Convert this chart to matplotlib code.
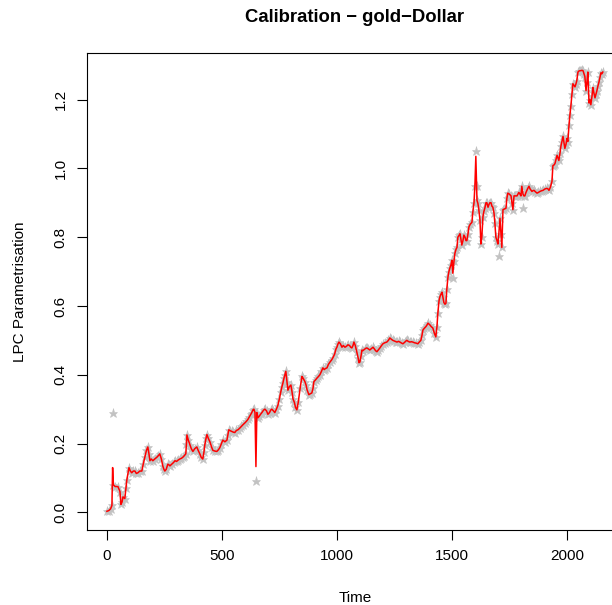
import numpy as np
from matplotlib import pyplot as plt

plt.rcParams['font.family'] = ['Liberation Sans', 'DejaVu Sans']

# LPC parametrisation of the gold-Dollar series
time = [
    0, 8, 16, 22, 25, 28, 36, 48, 57, 61, 66, 70, 78, 83, 87, 96, 102, 108, 115, 122,
    128, 135, 143, 152, 158, 165, 172, 178, 183, 187, 193, 200, 208, 217, 224, 230, 237, 243, 248, 252,
    258, 265, 270, 274, 282, 290, 296, 303, 310, 317, 324, 330, 337, 343, 346, 348, 354, 361, 367, 374,
    382, 391, 397, 404, 410, 417, 422, 426, 431, 435, 441, 448, 455, 461, 470, 478, 485, 491, 498, 504,
    513, 522, 526, 530, 537, 543, 550, 556, 563, 570, 578, 585, 592, 600, 607, 613, 620, 626, 630, 635,
    639, 644, 648, 652, 657, 663, 668, 674, 681, 687, 694, 700, 707, 712, 717, 724, 730, 737, 743, 750,
    756, 761, 765, 770, 774, 778, 783, 787, 793, 800, 805, 809, 815, 820, 826, 832, 840, 848, 853, 861,
    866, 870, 878, 885, 891, 896, 900, 907, 913, 920, 926, 933, 939, 945, 950, 957, 963, 970, 977, 983,
    990, 996, 1000, 1005, 1009, 1015, 1022, 1028, 1035, 1042, 1048, 1055, 1060, 1065, 1070, 1074, 1080, 1087, 1092, 1096,
    1100, 1105, 1109, 1113, 1120, 1126, 1130, 1137, 1143, 1150, 1157, 1163, 1168, 1174, 1180, 1187, 1193, 1200, 1208, 1217,
    1224, 1230, 1237, 1243, 1250, 1256, 1261, 1268, 1274, 1281, 1287, 1294, 1300, 1304, 1310, 1317, 1324, 1330, 1337, 1344,
    1352, 1358, 1365, 1370, 1374, 1380, 1387, 1392, 1396, 1404, 1410, 1417, 1424, 1430, 1435, 1439, 1444, 1448, 1453, 1457,
    1461, 1465, 1470, 1474, 1478, 1483, 1487, 1491, 1496, 1500, 1504, 1509, 1513, 1518, 1522, 1526, 1531, 1535, 1539, 1543,
    1548, 1552, 1557, 1561, 1565, 1570, 1574, 1580, 1587, 1591, 1596, 1600, 1604, 1607, 1609, 1613, 1617, 1622, 1626, 1630,
    1635, 1639, 1643, 1648, 1652, 1657, 1661, 1665, 1670, 1674, 1678, 1683, 1687, 1691, 1696, 1700, 1704, 1709, 1713, 1717,
    1722, 1728, 1735, 1739, 1743, 1750, 1757, 1761, 1765, 1770, 1776, 1783, 1791, 1796, 1800, 1804, 1809, 1813, 1817, 1822,
    1826, 1830, 1835, 1840, 1848, 1852, 1857, 1863, 1870, 1876, 1883, 1890, 1896, 1904, 1913, 1918, 1922, 1928, 1935, 1939,
    1944, 1948, 1952, 1957, 1961, 1965, 1970, 1974, 1978, 1983, 1987, 1991, 1996, 2000, 2004, 2009, 2013, 2017, 2022, 2026,
    2030, 2035, 2039, 2043, 2048, 2052, 2057, 2061, 2065, 2070, 2074, 2078, 2083, 2087, 2091, 2096, 2100, 2104, 2109, 2113,
    2117, 2122, 2126, 2130, 2135, 2139, 2144, 2148, 2152, 2156,
]
param = [
    0.003, 0.005, 0.01, 0.02, 0.13, 0.08, 0.075, 0.075, 0.06, 0.023, 0.03, 0.045, 0.04, 0.07, 0.095, 0.13, 0.12, 0.115, 0.12, 0.12,
    0.113, 0.115, 0.12, 0.12, 0.14, 0.16, 0.18, 0.19, 0.17, 0.15, 0.155, 0.15, 0.155, 0.16, 0.165, 0.17, 0.155, 0.135, 0.125, 0.12,
    0.125, 0.14, 0.138, 0.135, 0.14, 0.145, 0.15, 0.148, 0.152, 0.155, 0.157, 0.16, 0.165, 0.17, 0.2, 0.225, 0.21, 0.197, 0.185, 0.177,
    0.185, 0.19, 0.18, 0.17, 0.16, 0.155, 0.175, 0.197, 0.215, 0.226, 0.215, 0.205, 0.19, 0.18, 0.178, 0.177, 0.182, 0.188, 0.2, 0.21,
    0.205, 0.21, 0.225, 0.24, 0.237, 0.235, 0.233, 0.232, 0.238, 0.24, 0.245, 0.25, 0.255, 0.26, 0.265, 0.27, 0.278, 0.285, 0.29, 0.298,
    0.30, 0.29, 0.133, 0.29, 0.275, 0.28, 0.285, 0.29, 0.297, 0.30, 0.295, 0.285, 0.29, 0.297, 0.30, 0.295, 0.29, 0.30, 0.31, 0.33,
    0.35, 0.365, 0.375, 0.39, 0.40, 0.41, 0.38, 0.355, 0.365, 0.37, 0.35, 0.33, 0.32, 0.305, 0.298, 0.32, 0.36, 0.395, 0.39, 0.38,
    0.37, 0.357, 0.342, 0.345, 0.347, 0.36, 0.38, 0.385, 0.39, 0.395, 0.40, 0.41, 0.42, 0.415, 0.418, 0.42, 0.43, 0.437, 0.443, 0.45,
    0.46, 0.475, 0.48, 0.49, 0.495, 0.49, 0.48, 0.485, 0.48, 0.483, 0.487, 0.485, 0.48, 0.478, 0.485, 0.495, 0.485, 0.465, 0.45, 0.435,
    0.437, 0.455, 0.472, 0.47, 0.474, 0.477, 0.478, 0.475, 0.472, 0.476, 0.48, 0.475, 0.47, 0.467, 0.472, 0.478, 0.484, 0.49, 0.493, 0.495,
    0.50, 0.507, 0.503, 0.50, 0.498, 0.496, 0.495, 0.497, 0.495, 0.492, 0.49, 0.494, 0.498, 0.50, 0.497, 0.495, 0.496, 0.495, 0.493, 0.492,
    0.49, 0.495, 0.50, 0.515, 0.53, 0.535, 0.54, 0.545, 0.55, 0.545, 0.54, 0.536, 0.52, 0.51, 0.54, 0.58, 0.615, 0.627, 0.635, 0.64,
    0.625, 0.61, 0.605, 0.608, 0.65, 0.685, 0.70, 0.71, 0.72, 0.733, 0.695, 0.73, 0.753, 0.765, 0.77, 0.80, 0.805, 0.81, 0.795, 0.777,
    0.79, 0.806, 0.80, 0.79, 0.79, 0.81, 0.83, 0.838, 0.843, 0.873, 0.90, 0.95, 1.035, 0.95, 0.907, 0.898, 0.88, 0.85, 0.78, 0.80,
    0.86, 0.875, 0.884, 0.90, 0.90, 0.887, 0.895, 0.90, 0.90, 0.89, 0.887, 0.87, 0.84, 0.80, 0.79, 0.78, 0.81, 0.855, 0.81, 0.77,
    0.88, 0.882, 0.884, 0.913, 0.928, 0.925, 0.92, 0.90, 0.88, 0.92, 0.92, 0.92, 0.93, 0.925, 0.92, 0.948, 0.925, 0.92, 0.92, 0.93,
    0.936, 0.942, 0.948, 0.94, 0.933, 0.935, 0.936, 0.932, 0.928, 0.93, 0.933, 0.935, 0.936, 0.94, 0.942, 0.94, 0.936, 0.945, 0.962, 1.008,
    1.01, 1.014, 1.025, 1.038, 1.03, 1.023, 1.045, 1.065, 1.078, 1.093, 1.075, 1.058, 1.07, 1.087, 1.078, 1.125, 1.155, 1.18, 1.217, 1.246,
    1.242, 1.237, 1.245, 1.255, 1.28, 1.283, 1.284, 1.284, 1.285, 1.284, 1.275, 1.267, 1.226, 1.25, 1.28, 1.19, 1.20, 1.185, 1.21, 1.235,
    1.22, 1.205, 1.215, 1.225, 1.24, 1.25, 1.265, 1.278, 1.275, 1.28,
]

# observed points that sit away from the curve
outlier_time = [25, 648, 1504, 1604, 1704, 1809]
outlier_value = [0.29, 0.09, 0.68, 1.05, 0.745, 0.885]

time = np.array(time)
param = np.array(param)
obs = param.copy()
for t, v in zip(outlier_time, outlier_value):
    obs[np.where(time == t)[0][0]] = v

fig = plt.figure(figsize=(6.12, 6.05), dpi=100)
ax = fig.add_axes([87 / 612, 75 / 605, 536.6 / 612, 477 / 605])

# grey stars = observations, red = fitted curve
ax.plot(time, obs, linestyle='none', marker='*', markersize=6.5, color='#c2c2c2',
        markeredgecolor='#c2c2c2', markeredgewidth=0.4)
ax.plot(time, param, color='red', linewidth=1.1)

ax.set_xlim(-86.4, 2246.4)
ax.set_ylim(-0.0514, 1.3354)
ax.set_xticks([0, 500, 1000, 1500, 2000])
ax.set_yticks([0.0, 0.2, 0.4, 0.6, 0.8, 1.0, 1.2])
ax.set_yticklabels(['0.0', '0.2', '0.4', '0.6', '0.8', '1.0', '1.2'], va='center')
ax.tick_params(direction='out', length=7, width=0.8, pad=7, labelsize=11)
ax.tick_params(axis='y', labelrotation=90)
for s in ax.spines.values():
    s.set_linewidth(0.8)

ax.set_xlabel('Time', fontsize=11)
ax.xaxis.set_label_coords(0.5, -0.128)
ax.set_ylabel('LPC Parametrisation', fontsize=11)
ax.yaxis.set_label_coords(-0.112, 0.5)

fig.text(355 / 612, 1 - 18 / 605, 'Calibration \u2212 gold\u2212Dollar', ha='center', va='center',
         fontsize=13.3, fontweight='bold')

fig.savefig('out.png', dpi=100)
